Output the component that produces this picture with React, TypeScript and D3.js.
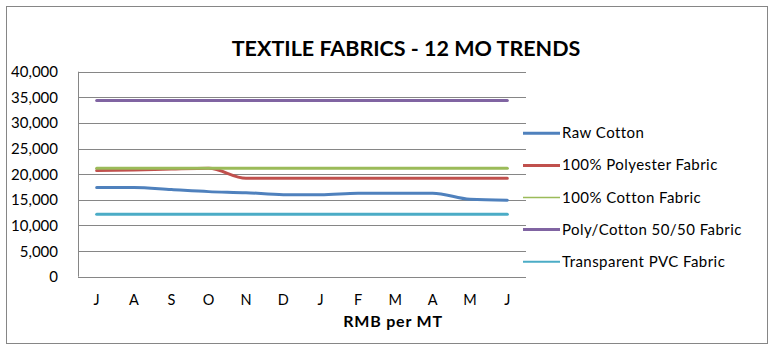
import React from "react";
import * as d3 from "d3";

const months = ["J", "A", "S", "O", "N", "D", "J", "F", "M", "A", "M", "J"];
const rawCotton = [17400, 17400, 17000, 16600, 16400, 16000, 16000, 16300, 16300, 16300, 15100, 14900];
const polyester = [20700, 20800, 21000, 21150, 19200, 19200, 19200, 19200, 19200, 19200, 19200, 19200];
const cottonFabric = [21150, 21150, 21150, 21150, 21150, 21150, 21150, 21150, 21150, 21150, 21150, 21150];
const polyCotton = [34400, 34400, 34400, 34400, 34400, 34400, 34400, 34400, 34400, 34400, 34400, 34400];
const pvc = [12200, 12200, 12200, 12200, 12200, 12200, 12200, 12200, 12200, 12200, 12200, 12200];
const yTicks = [0, 5000, 10000, 15000, 20000, 25000, 30000, 35000, 40000];

const seriesNames = ["Raw Cotton", "100% Polyester Fabric", "100% Cotton Fabric", "Poly/Cotton 50/50 Fabric", "Transparent PVC Fabric"];
const seriesValues = [rawCotton, polyester, cottonFabric, polyCotton, pvc];
const seriesColors = ["#4F81BD", "#C0504D", "#9BBB59", "#8064A2", "#4BACC6"];
const legendWidths = [3, 3, 1.3, 3, 2];

export default function App() {
  const W = 771, H = 348;
  const left = 78, right = 526, top = 71.7, bottom = 276.7;
  const x = d3.scaleBand<number>().domain(d3.range(12)).range([left, right]);
  const y = d3.scaleLinear().domain([0, 40000]).range([bottom, top]);
  const cx = (i: number) => (x(i) as number) + x.bandwidth() / 2;
  const line = d3.line<number>().x((_, i) => cx(i)).y((d) => y(d)).curve(d3.curveMonotoneX);
  const font = "Lato, 'Open Sans', sans-serif";
  return (
    <svg width={W} height={H} style={{ position: "absolute", left: 0, top: 0 }} fontFamily={font}>
      <rect x={0} y={0} width={W} height={H} fill="#fff" />
      <rect x={6.5} y={6.5} width={761} height={337} fill="#fff" stroke="#868686" strokeWidth={1} />
      <text x={406} y={55.5} textAnchor="middle" fontSize={21.5} fontWeight="bold" fill="#000">TEXTILE FABRICS - 12 MO TRENDS</text>
      {yTicks.map((t) => (
        <g key={t}>
          <line x1={left} x2={right} y1={Math.round(y(t)) + 0.5} y2={Math.round(y(t)) + 0.5} stroke="#868686" strokeWidth={1} />
          <text x={58} y={y(t) + 5.5} textAnchor="end" fontSize={15} fill="#000">{d3.format(",")(t)}</text>
        </g>
      ))}
      <line x1={left + 0.5} x2={left + 0.5} y1={top} y2={bottom} stroke="#868686" strokeWidth={1} />
      {months.map((m, i) => (
        <text key={i} x={cx(i)} y={305} textAnchor="middle" fontSize={14.5} fill="#000">{m}</text>
      ))}
      <text x={393} y={327} textAnchor="middle" fontSize={16} fontWeight="bold" letterSpacing={0.8} fill="#000">RMB per MT</text>
      {seriesValues.map((vals, k) => (
        <path key={k} d={line(vals) || ""} fill="none" stroke={seriesColors[k]} strokeWidth={3} strokeLinecap="round" strokeLinejoin="round" />
      ))}
      {seriesNames.map((n, k) => {
        const ly = 133.3 + k * 32.1;
        return (
          <g key={n}>
            <line x1={523} x2={560} y1={ly} y2={ly} stroke={seriesColors[k]} strokeWidth={legendWidths[k]} />
            <text x={562} y={ly + 5} fontSize={15} letterSpacing={0.45} fill="#000">{n}</text>
          </g>
        );
      })}
    </svg>
  );
}
